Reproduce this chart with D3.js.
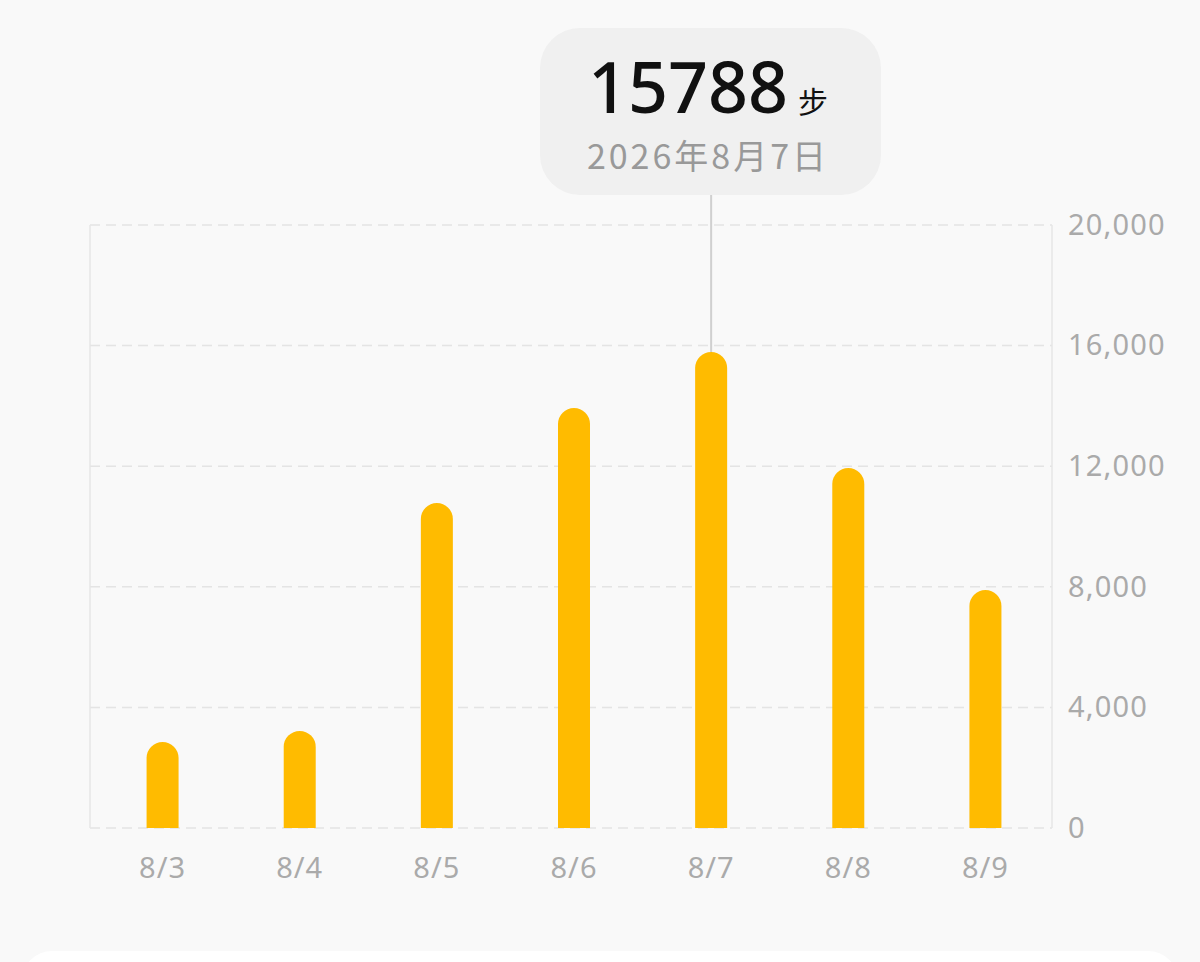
<!DOCTYPE html>
<html><head><meta charset="utf-8">
<script src="https://cdn.jsdelivr.net/npm/d3@7"></script>
<style>
html,body{margin:0;padding:0;background:#f9f9f9;}
svg{display:block;font-family:"Noto Sans CJK SC","Noto Sans",sans-serif;}
</style></head>
<body>
<svg id="c" width="1200" height="962"></svg>
<script>
const categories = ["8/3","8/4","8/5","8/6","8/7","8/8","8/9"];
const steps = [2850, 3220, 10780, 13930, 15788, 11940, 7890];
const yTicks = [0, 4000, 8000, 12000, 16000, 20000];
const tooltipValue = "15788";
const tooltipUnit = "步";
const tooltipDate = "2026年8月7日";
const selectedIndex = 4;

(function(){
const svg = d3.select("#c");
const pLeft = 90, pRight = 1052, pTop = 225, pBottom = 828;

svg.append("rect").attr("width",1200).attr("height",962).attr("fill","#f9f9f9");

const x = d3.scaleBand().domain(categories).range([94, 1054]).padding(0);
const y = d3.scaleLinear().domain([0, 20000]).range([pBottom, pTop]);

// grid
const grid = svg.append("g");
grid.selectAll("line.g").data(yTicks).join("line")
  .attr("x1", pLeft).attr("x2", pRight)
  .attr("y1", d=>y(d)).attr("y2", d=>y(d))
  .attr("stroke","#e4e4e4").attr("stroke-width",1.5)
  .attr("stroke-dasharray","10,6");
grid.append("line").attr("x1",pLeft).attr("x2",pLeft).attr("y1",pTop).attr("y2",pBottom)
  .attr("stroke","#e6e6e6").attr("stroke-width",1.5);
grid.append("line").attr("x1",pRight).attr("x2",pRight).attr("y1",pTop).attr("y2",pBottom)
  .attr("stroke","#e6e6e6").attr("stroke-width",1.5);

// y axis on right
const yAxis = d3.axisRight(y).tickValues(yTicks).tickSize(0).tickPadding(16)
  .tickFormat(d3.format(","));
const ya = svg.append("g").attr("transform",`translate(${pRight},0)`).call(yAxis);
ya.select(".domain").remove();
ya.selectAll("text").attr("fill","#aaaaaa").attr("font-size",29).attr("letter-spacing",1.2)
  .attr("font-family","'Noto Sans','Noto Sans CJK SC',sans-serif");

// x axis
const xAxis = d3.axisBottom(x).tickSize(0).tickPadding(29);
const xa = svg.append("g").attr("transform",`translate(0,${pBottom})`).call(xAxis);
xa.select(".domain").remove();
xa.selectAll("text").attr("fill","#aaaaaa").attr("font-size",29).attr("letter-spacing",1)
  .attr("font-family","'Noto Sans','Noto Sans CJK SC',sans-serif");

// tooltip line
const cx = x(categories[selectedIndex]) + x.bandwidth()/2;
svg.append("line").attr("x1",cx).attr("x2",cx).attr("y1",195).attr("y2",y(steps[selectedIndex]))
  .attr("stroke","#d0d0d0").attr("stroke-width",2);

// bars
const bw = 32, r = 16;
function barPath(d, i){
  const c = x(categories[i]) + x.bandwidth()/2;
  const x0 = c - bw/2, x1 = c + bw/2;
  const yt = y(d), yb = y(0);
  return `M${x0},${yb} L${x0},${yt+r} A${r},${r} 0 0 1 ${x1},${yt+r} L${x1},${yb} Z`;
}
svg.append("g").selectAll("path").data(steps).join("path")
  .attr("d", (d,i)=>barPath(d,i)).attr("fill","#FFBB00");

// tooltip box
const tb = svg.append("g");
tb.append("rect").attr("x",540).attr("y",28).attr("width",341).attr("height",167)
  .attr("rx",40).attr("fill","#f0f0f0");
const t1 = tb.append("text").attr("x",708).attr("y",113).attr("text-anchor","middle")
  .attr("font-family","'Noto Sans','Noto Sans CJK SC',sans-serif");
t1.append("tspan").text(tooltipValue).attr("font-size",70).attr("font-weight",500).attr("fill","#111");
t1.append("tspan").text(tooltipUnit).attr("font-size",30).attr("fill","#111").attr("dx",10);
tb.append("text").attr("x",708).attr("y",169).attr("text-anchor","middle")
  .attr("font-size",34).attr("letter-spacing",3).attr("fill","#999").text(tooltipDate);

// bottom card
svg.append("rect").attr("x",22).attr("y",951).attr("width",1156).attr("height",60).attr("rx",30).attr("fill","#ffffff");
})();
</script>
</body></html>
